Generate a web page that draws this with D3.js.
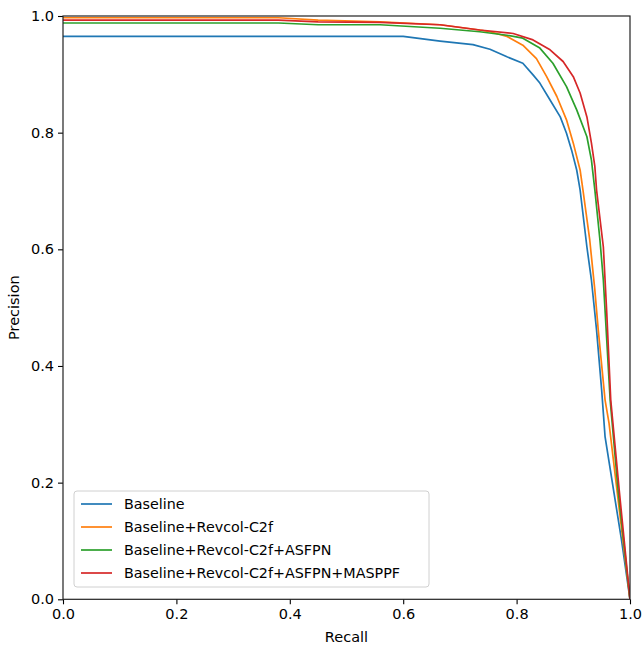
<!DOCTYPE html>
<html>
<head>
<meta charset="utf-8">
<script src="https://cdn.jsdelivr.net/npm/d3@7"></script>
<style>
    body { margin: 0; background: #fff; }
    text { font-family: "DejaVu Sans", sans-serif; fill: #000; }
</style>
</head>
<body>
<script>
// series names, one per curve
var seriesNames = ["Baseline", "Baseline+Revcol-C2f", "Baseline+Revcol-C2f+ASFPN",
                   "Baseline+Revcol-C2f+ASFPN+MASPPF"];
var seriesColors = ["#1f77b4", "#ff7f0e", "#2ca02c", "#d62728"];

// recall / precision pairs
var baselineRecall    = [0, 0.60, 0.665, 0.723, 0.753, 0.783, 0.811, 0.829, 0.841, 0.859, 0.877, 0.888, 0.897, 0.906, 0.912, 0.924, 0.932, 0.941, 0.950, 0.956, 0.971, 0.985, 1.0];
var baselinePrecision = [0.965, 0.965, 0.957, 0.951, 0.943, 0.930, 0.919, 0.899, 0.885, 0.856, 0.827, 0.799, 0.770, 0.736, 0.702, 0.604, 0.547, 0.462, 0.359, 0.279, 0.187, 0.102, 0];

var revcolRecall    = [0, 0.38, 0.45, 0.559, 0.665, 0.735, 0.753, 0.783, 0.811, 0.835, 0.853, 0.871, 0.888, 0.900, 0.912, 0.917, 0.929, 0.938, 0.944, 0.956, 0.963, 0.977, 1.0];
var revcolPrecision = [0.997, 0.997, 0.993, 0.990, 0.985, 0.976, 0.973, 0.965, 0.950, 0.927, 0.896, 0.862, 0.822, 0.782, 0.736, 0.702, 0.616, 0.530, 0.462, 0.342, 0.302, 0.187, 0];

var asfpnRecall    = [0, 0.38, 0.45, 0.559, 0.665, 0.735, 0.783, 0.811, 0.841, 0.864, 0.888, 0.906, 0.924, 0.932, 0.938, 0.947, 0.953, 0.965, 0.979, 1.0];
var asfpnPrecision = [0.988, 0.988, 0.985, 0.985, 0.979, 0.973, 0.967, 0.962, 0.945, 0.919, 0.879, 0.839, 0.793, 0.753, 0.702, 0.616, 0.547, 0.342, 0.187, 0];

var masppfRecall    = [0, 0.38, 0.45, 0.559, 0.665, 0.735, 0.794, 0.829, 0.859, 0.882, 0.900, 0.912, 0.924, 0.932, 0.938, 0.941, 0.953, 0.959, 0.966, 0.981, 1.0];
var masppfPrecision = [0.993, 0.993, 0.990, 0.989, 0.985, 0.976, 0.970, 0.959, 0.942, 0.922, 0.896, 0.868, 0.827, 0.782, 0.742, 0.702, 0.604, 0.491, 0.342, 0.187, 0];

// tick values for both axes
var tickValues = [0, 0.2, 0.4, 0.6, 0.8, 1.0];

(function(){
    var width = 642,
        height = 648;

    // axes box in pixels
    var left = 63, right = 630, top = 16, bottom = 599.3;

    var svg = d3.select("body")
        .append("svg")
        .attr("width", width)
        .attr("height", height);

    var x = d3.scaleLinear().domain([0, 1]).range([left, right]);
    var y = d3.scaleLinear().domain([0, 1]).range([bottom, top]);

    // zip the arrays into point lists
    var recalls = [baselineRecall, revcolRecall, asfpnRecall, masppfRecall];
    var precisions = [baselinePrecision, revcolPrecision, asfpnPrecision, masppfPrecision];
    var series = seriesNames.map(function(name, i){
        return {
            name: name,
            color: seriesColors[i],
            points: recalls[i].map(function(r, j){ return [r, precisions[i][j]]; })
        };
    });

    svg.append("clipPath").attr("id", "plotclip")
        .append("rect")
        .attr("x", left).attr("y", top)
        .attr("width", right - left).attr("height", bottom - top);

    var line = d3.line()
        .x(function(d){ return x(d[0]); })
        .y(function(d){ return y(d[1]); });

    svg.append("g")
        .attr("clip-path", "url(#plotclip)")
        .selectAll("path")
        .data(series)
        .enter()
        .append("path")
        .attr("d", function(d){ return line(d.points); })
        .attr("fill", "none")
        .attr("stroke", function(d){ return d.color; })
        .attr("stroke-width", 1.7)
        .attr("stroke-linejoin", "round");

    // axes
    var xAxis = d3.axisBottom(x).tickValues(tickValues).tickFormat(d3.format(".1f")).tickSize(5).tickPadding(4);
    var yAxis = d3.axisLeft(y).tickValues(tickValues).tickFormat(d3.format(".1f")).tickSize(5).tickPadding(4);

    var gx = svg.append("g").attr("transform", "translate(0," + bottom + ")").call(xAxis);
    var gy = svg.append("g").attr("transform", "translate(" + left + ",0)").call(yAxis);
    [gx, gy].forEach(function(g){
        g.select(".domain").remove();
        g.selectAll("text").style("font-size", "14.5px").attr("fill", "#000");
        g.selectAll("line").attr("stroke", "#000").attr("stroke-width", 1.1);
    });

    // spines
    svg.append("rect")
        .attr("x", left).attr("y", top)
        .attr("width", right - left).attr("height", bottom - top)
        .attr("fill", "none")
        .attr("stroke", "#222")
        .attr("stroke-width", 1.2);

    // axis labels
    svg.append("text")
        .attr("x", (left + right) / 2).attr("y", 642)
        .attr("text-anchor", "middle")
        .style("font-size", "14.5px")
        .text("Recall");

    svg.append("text")
        .attr("transform", "translate(19," + ((top + bottom) / 2) + ") rotate(-90)")
        .attr("text-anchor", "middle")
        .style("font-size", "14.5px")
        .text("Precision");

    // legend
    var legend = svg.append("g");
    legend.append("rect")
        .attr("x", 74).attr("y", 491)
        .attr("width", 355).attr("height", 96)
        .attr("rx", 3)
        .attr("fill", "#fff").attr("fill-opacity", 0.8)
        .attr("stroke", "#d0d0d0");

    var rows = legend.selectAll(".row")
        .data(series)
        .enter()
        .append("g")
        .attr("class", "row")
        .attr("transform", function(d, i){ return "translate(0," + (504 + i * 23) + ")"; });

    rows.append("line")
        .attr("x1", 81).attr("x2", 112)
        .attr("stroke", function(d){ return d.color; })
        .attr("stroke-width", 1.7);

    rows.append("text")
        .attr("x", 124).attr("dy", "0.35em")
        .style("font-size", "14.3px")
        .text(function(d){ return d.name; });
})();
</script>
</body>
</html>
